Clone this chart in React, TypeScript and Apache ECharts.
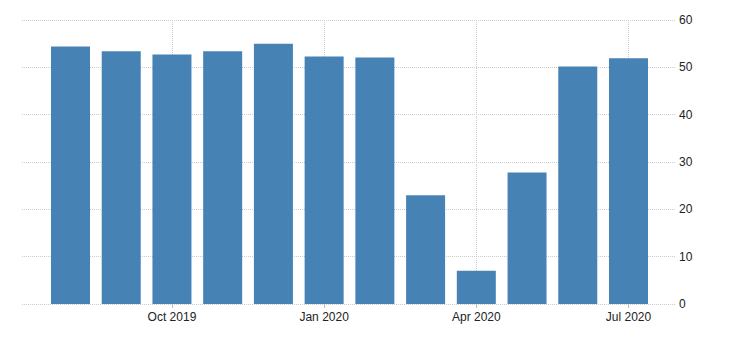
import React, { useEffect, useRef } from "react";
import * as echarts from "echarts";

const months = [
  "Aug 2019", "Sep 2019", "Oct 2019", "Nov 2019", "Dec 2019", "Jan 2020",
  "Feb 2020", "Mar 2020", "Apr 2020", "May 2020", "Jun 2020", "Jul 2020",
];
const values = [54.4, 53.4, 52.7, 53.4, 55.0, 52.3, 52.1, 23.0, 7.0, 27.8, 50.2, 51.9];
const yMin = 0;
const yMax = 60;
const yStep = 10;
const labelledMonths = ["Oct 2019", "Jan 2020", "Apr 2020", "Jul 2020"];

export default function App() {
  const ref = useRef<HTMLDivElement>(null);
  useEffect(() => {
    document.body.style.margin = "0";
    if (!ref.current) return;
    const chart = echarts.init(ref.current, null, { renderer: "svg" });
    const show = (i: number) => labelledMonths.includes(months[i]);
    const gridColor = "#cccccc";
    chart.setOption({
      animation: false,
      grid: [
        { left: 70.5, right: 101.5, top: 20, bottom: 36 },
        { left: 22, right: 55, top: 20, bottom: 36 },
      ],
      xAxis: [
        {
          type: "category",
          gridIndex: 0,
          data: months,
          boundaryGap: false,
          axisLine: { show: false },
          axisTick: {
            show: true,
            interval: (i: number) => show(i),
            length: 4,
            lineStyle: { color: "#bbbbbb" },
          },
          axisLabel: {
            interval: (i: number) => show(i),
            color: "#222",
            fontSize: 12,
            fontFamily: "Liberation Sans",
            margin: 7,
          },
          splitLine: {
            show: true,
            interval: (i: number) => show(i),
            lineStyle: { color: gridColor, type: "dotted" },
          },
        },
        {
          type: "value",
          gridIndex: 1,
          show: false,
          min: 0,
          max: 1,
        },
      ],
      yAxis: [
        {
          type: "value",
          gridIndex: 0,
          min: yMin,
          max: yMax,
          interval: yStep,
          show: false,
        },
        {
          type: "value",
          gridIndex: 1,
          position: "right",
          min: yMin,
          max: yMax,
          interval: yStep,
          axisLine: { show: false },
          axisTick: { show: false },
          axisLabel: {
            color: "#222",
            fontSize: 12,
            fontFamily: "Liberation Sans",
            margin: 4,
          },
          splitLine: { show: true, lineStyle: { color: gridColor, type: "dotted" } },
        },
      ],
      series: [
        {
          type: "bar",
          xAxisIndex: 0,
          yAxisIndex: 0,
          data: values,
          barWidth: 39,
          clip: false,
          z: 3,
          itemStyle: { color: "#4682B4" },
        },
      ],
    });
    return () => chart.dispose();
  }, []);
  return <div ref={ref} style={{ width: 730, height: 340 }} />;
}
